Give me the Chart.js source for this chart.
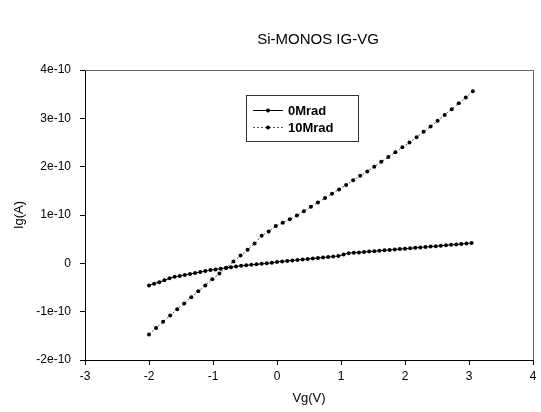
<!DOCTYPE html>
<html>
<head>
<meta charset="utf-8">
<script src="https://cdn.jsdelivr.net/npm/chart.js@4/dist/chart.umd.min.js"></script>
<style>
  html, body { margin: 0; padding: 0; background: #fff; }
  canvas { display: block; }
</style>
</head>
<body>
<canvas id="ig-vg" width="541" height="412"></canvas>
<script>
// Si-MONOS gate current vs gate voltage, two dose levels.

var FONT = 'Arial, "Liberation Sans", sans-serif';

// 0Mrad sweep (Vg in V, Ig in A)
var vg0 = [-2.00, -1.92, -1.84, -1.76, -1.68, -1.60, -1.52, -1.44, -1.36, -1.28,
  -1.20, -1.12, -1.04, -0.96, -0.88, -0.80, -0.72, -0.64, -0.56, -0.48,
  -0.40, -0.32, -0.24, -0.16, -0.08, 0.00, 0.08, 0.16, 0.24, 0.32,
  0.40, 0.48, 0.56, 0.64, 0.72, 0.80, 0.88, 0.96, 1.04, 1.12,
  1.20, 1.28, 1.36, 1.44, 1.52, 1.60, 1.68, 1.76, 1.84, 1.92,
  2.00, 2.08, 2.16, 2.24, 2.32, 2.40, 2.48, 2.56, 2.64, 2.72,
  2.80, 2.88, 2.96, 3.04];
var ig0 = [-4.6e-11, -4.2e-11, -3.9e-11, -3.5e-11, -3.1e-11, -2.8e-11, -2.6e-11, -2.4e-11, -2.2e-11, -2.0e-11,
  -1.8e-11, -1.6e-11, -1.4e-11, -1.25e-11, -1.1e-11, -0.95e-11, -0.8e-11, -0.65e-11, -0.5e-11, -0.4e-11,
  -0.3e-11, -0.2e-11, -0.1e-11, 0.0, 0.1e-11, 0.3e-11, 0.4e-11, 0.5e-11, 0.6e-11, 0.7e-11,
  0.8e-11, 0.9e-11, 1.0e-11, 1.1e-11, 1.2e-11, 1.3e-11, 1.4e-11, 1.5e-11, 1.85e-11, 2.1e-11,
  2.2e-11, 2.25e-11, 2.34e-11, 2.43e-11, 2.5e-11, 2.6e-11, 2.7e-11, 2.78e-11, 2.86e-11, 2.95e-11,
  3.04e-11, 3.12e-11, 3.2e-11, 3.3e-11, 3.38e-11, 3.47e-11, 3.55e-11, 3.64e-11, 3.73e-11, 3.82e-11,
  3.9e-11, 4.0e-11, 4.1e-11, 4.2e-11];

// 10Mrad sweep
var vg10 = [-2.00, -1.89, -1.78, -1.67, -1.56, -1.45, -1.34, -1.23, -1.12, -1.01,
  -0.90, -0.79, -0.68, -0.57, -0.46, -0.35, -0.24, -0.13, -0.02, 0.09,
  0.20, 0.31, 0.42, 0.53, 0.64, 0.75, 0.86, 0.97, 1.08, 1.19,
  1.30, 1.41, 1.52, 1.63, 1.74, 1.85, 1.96, 2.07, 2.18, 2.29,
  2.40, 2.51, 2.62, 2.73, 2.84, 2.95, 3.06];
var ig10 = [-1.47e-10, -1.34e-10, -1.21e-10, -1.08e-10, -0.95e-10, -0.83e-10, -0.70e-10, -0.58e-10, -0.46e-10, -0.33e-10,
  -0.21e-10, -0.09e-10, 0.04e-10, 0.16e-10, 0.28e-10, 0.41e-10, 0.57e-10, 0.66e-10, 0.77e-10, 0.84e-10,
  0.91e-10, 0.99e-10, 1.08e-10, 1.17e-10, 1.26e-10, 1.35e-10, 1.44e-10, 1.53e-10, 1.62e-10, 1.72e-10,
  1.81e-10, 1.90e-10, 2.00e-10, 2.10e-10, 2.20e-10, 2.30e-10, 2.40e-10, 2.50e-10, 2.61e-10, 2.72e-10,
  2.83e-10, 2.95e-10, 3.07e-10, 3.19e-10, 3.31e-10, 3.43e-10, 3.56e-10];

var seriesNames = ['0Mrad', '10Mrad'];

var xTickValues = [-3, -2, -1, 0, 1, 2, 3, 4];
var xTickLabels = ['-3', '-2', '-1', '0', '1', '2', '3', '4'];
var yTickValues = [-2e-10, -1e-10, 0, 1e-10, 2e-10, 3e-10, 4e-10];
var yTickLabels = ['-2e-10', '-1e-10', '0', '1e-10', '2e-10', '3e-10', '4e-10'];

function pairs(xs, ys) {
  return xs.map(function(x, i) { return { x: x, y: ys[i] }; });
}

// chart title + frame (top/right edges) + boxed legend like the original plot
var framePlugin = {
  id: 'frame',
  afterDraw: function(chart) {
    var ctx = chart.ctx, a = chart.chartArea;
    ctx.save();
    ctx.strokeStyle = '#666';
    ctx.lineWidth = 1;
    ctx.beginPath();
    ctx.moveTo(a.left, a.top + 0.5);
    ctx.lineTo(a.right + 0.5, a.top + 0.5);
    ctx.lineTo(a.right + 0.5, a.bottom);
    ctx.stroke();

    ctx.fillStyle = '#000';
    ctx.font = '15px ' + FONT;
    ctx.textAlign = 'center';
    ctx.textBaseline = 'middle';
    ctx.fillText('Si-MONOS IG-VG', 318, 40);

    // legend box
    var bx = 246, by = 95, bw = 112, bh = 46;
    ctx.strokeStyle = '#333';
    ctx.lineWidth = 1;
    ctx.strokeRect(bx + 0.5, by + 0.5, bw, bh);
    chart.data.datasets.forEach(function(ds, i) {
      var yy = by + 15 + i * 17;
      ctx.save();
      ctx.strokeStyle = ds.borderColor;
      ctx.lineWidth = 1;
      ctx.setLineDash(ds.borderDash || []);
      ctx.beginPath();
      ctx.moveTo(bx + 7, yy + 0.5);
      ctx.lineTo(bx + 37, yy + 0.5);
      ctx.stroke();
      ctx.restore();
      ctx.fillStyle = '#000';
      ctx.beginPath();
      ctx.arc(bx + 22, yy + 0.5, 2, 0, Math.PI * 2);
      ctx.fill();
      ctx.font = 'bold 13px ' + FONT;
      ctx.textAlign = 'left';
      ctx.fillText(ds.label, bx + 42, yy + 1);
    });
    ctx.restore();
  }
};

var axisFont = { family: FONT, size: 12 };

new Chart(document.getElementById('ig-vg'), {
  type: 'scatter',
  data: {
    datasets: [
      {
        label: seriesNames[0],
        data: pairs(vg0, ig0),
        showLine: true,
        borderColor: '#000',
        borderWidth: 1,
        backgroundColor: '#000',
        pointRadius: 2,
        pointBorderWidth: 0,
        tension: 0
      },
      {
        label: seriesNames[1],
        data: pairs(vg10, ig10),
        showLine: true,
        borderColor: '#555',
        borderWidth: 1,
        borderDash: [2, 2],
        backgroundColor: '#000',
        pointRadius: 2,
        pointBorderWidth: 0,
        tension: 0
      }
    ]
  },
  options: {
    responsive: false,
    animation: false,
    events: [],
    layout: { padding: { top: 70, right: 8, bottom: 0, left: 0 } },
    plugins: {
      legend: { display: false },
      tooltip: { enabled: false }
    },
    scales: {
      x: {
        type: 'linear',
        min: -3,
        max: 4,
        afterBuildTicks: function(s) { s.ticks = xTickValues.map(function(v) { return { value: v }; }); },
        afterFit: function(s) { s.height = 52; },
        ticks: {
          color: '#000',
          font: axisFont,
          padding: 4,
          maxRotation: 0,
          callback: function(v, i) { return xTickLabels[i]; }
        },
        grid: { drawOnChartArea: false, drawTicks: true, tickLength: 5, color: '#000' },
        border: { display: true, color: '#000', width: 1 },
        title: { display: true, text: 'Vg(V)', color: '#000', font: { family: FONT, size: 13 }, padding: { top: 0, bottom: 6 } }
      },
      y: {
        type: 'linear',
        min: -2e-10,
        max: 4e-10,
        afterBuildTicks: function(s) { s.ticks = yTickValues.map(function(v) { return { value: v }; }); },
        afterFit: function(s) { s.width = 85; },
        ticks: {
          color: '#000',
          font: axisFont,
          padding: 9,
          callback: function(v, i) { return yTickLabels[i]; }
        },
        grid: { drawOnChartArea: false, drawTicks: true, tickLength: 5, color: '#000' },
        border: { display: true, color: '#000', width: 1 },
        title: { display: true, text: 'Ig(A)', color: '#000', font: { family: FONT, size: 13 }, padding: { top: 12, bottom: 0 } }
      }
    }
  },
  plugins: [framePlugin]
});
</script>
</body>
</html>
